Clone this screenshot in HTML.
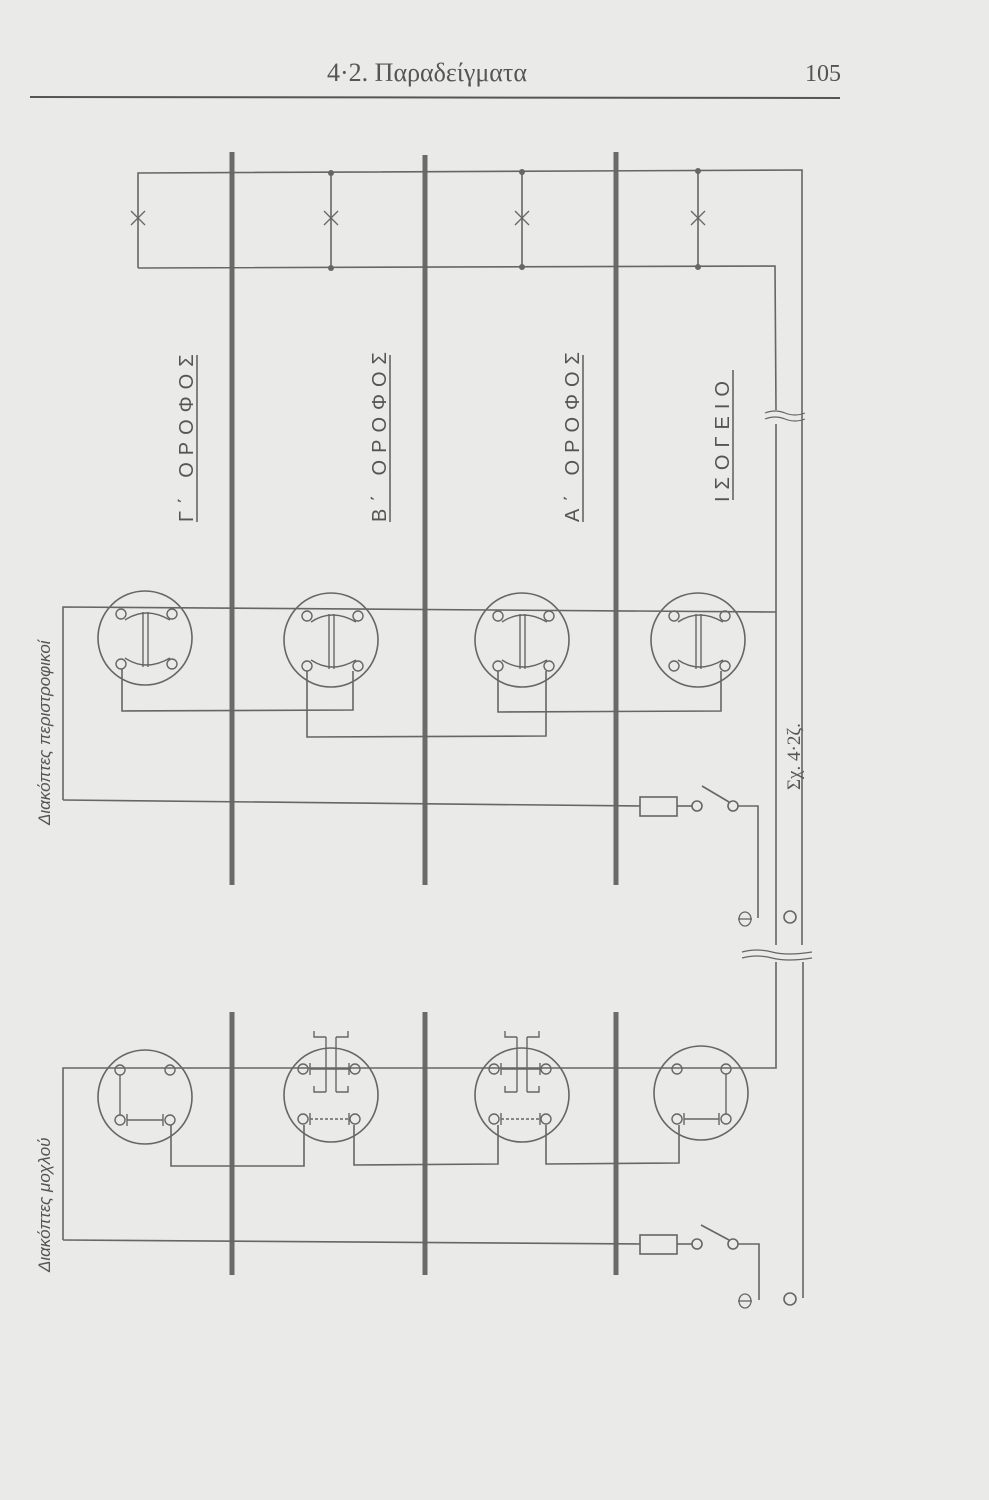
<!DOCTYPE html>
<html><head><meta charset="utf-8"><style>
html,body{margin:0;padding:0;background:#eaeae8;}
svg{display:block}
text{font-family:"Liberation Sans","DejaVu Sans",sans-serif;fill:#555}
</style></head><body>
<svg width="989" height="1500" viewBox="0 0 989 1500" xmlns="http://www.w3.org/2000/svg">
<rect width="989" height="1500" fill="#eaeae8"/>
<!-- header -->
<text x="427" y="81" font-size="26" text-anchor="middle" style="font-family:'Liberation Serif',serif" fill="#3a3a3a">4·2. Παραδείγματα</text>
<text x="823" y="81" font-size="24" text-anchor="middle" style="font-family:'Liberation Serif',serif" fill="#3a3a3a">105</text>
<line x1="30" y1="97" x2="840" y2="98" stroke="#555" stroke-width="2"/>

<g stroke="#666" stroke-width="1.6" fill="none">
<!-- floor bars -->
<g stroke="#6a6a6a" stroke-width="5">
<line x1="232" y1="152" x2="232" y2="885"/><line x1="425" y1="155" x2="425" y2="885"/><line x1="616" y1="152" x2="616" y2="885"/>
<line x1="232" y1="1012" x2="232" y2="1275"/><line x1="425" y1="1012" x2="425" y2="1275"/><line x1="616" y1="1012" x2="616" y2="1275"/>
</g>
<!-- lamp wiring -->
<polyline points="138,268 138,173 802,170 802,945"/>
<polyline points="138,268 775,266 776,410"/>
<polyline points="776,424 776,945"/>
<polyline points="776,962 776,1068 740,1068"/>
<polyline points="803,962 803,1298"/>
<line x1="331" y1="173" x2="331" y2="268"/><line x1="522" y1="172" x2="522" y2="267"/><line x1="698" y1="171" x2="698" y2="267"/>
<g stroke-width="1.3">
<path d="M131,211 L145,225 M145,211 L131,225"/><path d="M324,211 L338,225 M338,211 L324,225"/>
<path d="M515,211 L529,225 M529,211 L515,225"/><path d="M691,211 L705,225 M705,211 L691,225"/>
</g>
<!-- wavy breaks -->
<path d="M765,413 q10,-4 20,0 t20,0 M765,419 q10,-4 20,0 t20,0" stroke-width="1.2"/>
<path d="M742,952 q15,-4 30,0 t40,0 M742,958 q15,-4 30,0 t40,0" stroke-width="1.2"/>
<!-- underlines for labels -->
<line x1="197" y1="355" x2="197" y2="522"/><line x1="390" y1="355" x2="390" y2="522"/>
<line x1="583" y1="355" x2="583" y2="522"/><line x1="733" y1="370" x2="733" y2="500"/>

<!-- top diagram: rotary switches -->
<polyline points="63,800 63,607 776,612"/>
<polyline points="63,800 640,806"/>
<circle cx="145" cy="638" r="47"/><circle cx="331" cy="640" r="47"/><circle cx="522" cy="640" r="47"/><circle cx="698" cy="640" r="47"/>
<g stroke-width="1.4">
<g>
<circle cx="121" cy="614" r="5"/><circle cx="172" cy="614" r="5"/><circle cx="121" cy="664" r="5"/><circle cx="172" cy="664" r="5"/>
<line x1="143" y1="612" x2="143" y2="667"/><line x1="148" y1="612" x2="148" y2="667"/>
<path d="M125,620 Q146,606 170,620 M125,658 Q146,672 170,658"/>
</g>
<g transform="translate(186,2)"><circle cx="121" cy="614" r="5"/><circle cx="172" cy="614" r="5"/><circle cx="121" cy="664" r="5"/><circle cx="172" cy="664" r="5"/>
<line x1="143" y1="612" x2="143" y2="667"/><line x1="148" y1="612" x2="148" y2="667"/>
<path d="M125,620 Q146,606 170,620 M125,658 Q146,672 170,658"/></g>
<g transform="translate(377,2)"><circle cx="121" cy="614" r="5"/><circle cx="172" cy="614" r="5"/><circle cx="121" cy="664" r="5"/><circle cx="172" cy="664" r="5"/>
<line x1="143" y1="612" x2="143" y2="667"/><line x1="148" y1="612" x2="148" y2="667"/>
<path d="M125,620 Q146,606 170,620 M125,658 Q146,672 170,658"/></g>
<g transform="translate(553,2)"><circle cx="121" cy="614" r="5"/><circle cx="172" cy="614" r="5"/><circle cx="121" cy="664" r="5"/><circle cx="172" cy="664" r="5"/>
<line x1="143" y1="612" x2="143" y2="667"/><line x1="148" y1="612" x2="148" y2="667"/>
<path d="M125,620 Q146,606 170,620 M125,658 Q146,672 170,658"/></g>
</g>
<polyline points="122,669 122,711 353,710 353,671"/>
<polyline points="307,671 307,737 546,736 546,671"/>
<polyline points="498,671 498,712 721,711 721,671"/>
<!-- fuse + switch top -->
<rect x="640" y="797" width="37" height="19"/>
<line x1="677" y1="806" x2="692" y2="806"/>
<circle cx="697" cy="806" r="5"/><circle cx="733" cy="806" r="5"/>
<line x1="702" y1="786" x2="729" y2="802"/>
<polyline points="738,806 758,806 758,918"/>
<ellipse cx="745" cy="919" rx="6" ry="7" stroke-width="1.3"/><line x1="738" y1="919" x2="752" y2="919" stroke-width="1.3"/>
<ellipse cx="790" cy="917" rx="6" ry="6"/>

<!-- bottom diagram -->
<polyline points="63,1240 63,1068 740,1068"/>
<polyline points="63,1240 640,1244"/>
<circle cx="145" cy="1097" r="47"/><circle cx="331" cy="1095" r="47"/><circle cx="522" cy="1095" r="47"/><circle cx="701" cy="1093" r="47"/>
<g stroke-width="1.4">
<circle cx="120" cy="1070" r="5"/><circle cx="170" cy="1070" r="5"/><circle cx="120" cy="1120" r="5"/><circle cx="170" cy="1120" r="5"/>
<line x1="120" y1="1075" x2="120" y2="1115"/><line x1="127" y1="1120" x2="163" y2="1120"/><path d="M127,1114 v12 M163,1114 v12"/>
<circle cx="677" cy="1069" r="5"/><circle cx="726" cy="1069" r="5"/><circle cx="677" cy="1119" r="5"/><circle cx="726" cy="1119" r="5"/>
<line x1="726" y1="1074" x2="726" y2="1114"/><line x1="684" y1="1119" x2="719" y2="1119"/><path d="M684,1113 v12 M719,1113 v12"/>
<g>
<circle cx="303" cy="1069" r="5"/><circle cx="355" cy="1069" r="5"/><circle cx="303" cy="1119" r="5"/><circle cx="355" cy="1119" r="5"/>
<line x1="326" y1="1037" x2="326" y2="1092"/><line x1="336" y1="1037" x2="336" y2="1092"/>
<path d="M326,1037 h-12 v-6 M336,1037 h12 v-6 M326,1092 h-12 v-6 M336,1092 h12 v-6"/>
<line x1="310" y1="1069" x2="349" y2="1069"/><path d="M310,1063 v12 M349,1063 v12"/>
<line x1="310" y1="1119" x2="349" y2="1119" stroke-dasharray="3 2"/><path d="M310,1113 v12 M349,1113 v12"/>
</g>
<g transform="translate(191,0)">
<circle cx="303" cy="1069" r="5"/><circle cx="355" cy="1069" r="5"/><circle cx="303" cy="1119" r="5"/><circle cx="355" cy="1119" r="5"/>
<line x1="326" y1="1037" x2="326" y2="1092"/><line x1="336" y1="1037" x2="336" y2="1092"/>
<path d="M326,1037 h-12 v-6 M336,1037 h12 v-6 M326,1092 h-12 v-6 M336,1092 h12 v-6"/>
<line x1="310" y1="1069" x2="349" y2="1069"/><path d="M310,1063 v12 M349,1063 v12"/>
<line x1="310" y1="1119" x2="349" y2="1119" stroke-dasharray="3 2"/><path d="M310,1113 v12 M349,1113 v12"/>
</g>
</g>
<polyline points="171,1125 171,1166 304,1166 304,1125"/>
<polyline points="354,1125 354,1165 498,1164 498,1125"/>
<polyline points="546,1125 546,1164 679,1163 679,1125"/>
<rect x="640" y="1235" width="37" height="19"/>
<line x1="677" y1="1244" x2="692" y2="1244"/>
<circle cx="697" cy="1244" r="5"/><circle cx="733" cy="1244" r="5"/>
<line x1="701" y1="1225" x2="729" y2="1240"/>
<polyline points="738,1244 759,1244 759,1300"/>
<ellipse cx="745" cy="1301" rx="6" ry="7" stroke-width="1.3"/><line x1="738" y1="1301" x2="752" y2="1301" stroke-width="1.3"/>
<ellipse cx="790" cy="1299" rx="6" ry="6"/>
</g>
<!-- junction dots -->
<g fill="#666">
<circle cx="331" cy="173" r="3"/><circle cx="522" cy="172" r="3"/><circle cx="698" cy="171" r="3"/>
<circle cx="331" cy="268" r="3"/><circle cx="522" cy="267" r="3"/><circle cx="698" cy="267" r="3"/>
</g>
<!-- rotated labels -->
<g font-size="20" fill="#555" letter-spacing="7">
<text transform="translate(193,522) rotate(-90)">Γ΄ ΟΡΟΦΟΣ</text>
<text transform="translate(386,522) rotate(-90)">Β΄ ΟΡΟΦΟΣ</text>
<text transform="translate(579,522) rotate(-90)">Α΄ ΟΡΟΦΟΣ</text>
<text transform="translate(729,502) rotate(-90)">ΙΣΟΓΕΙΟ</text>
</g>
<text transform="translate(800,790) rotate(-90)" font-size="19" fill="#555" style="font-family:'Liberation Serif',serif">Σχ. 4·2ζ.</text>
<text transform="translate(50,825) rotate(-90)" font-size="17" font-style="italic" fill="#777">Διακόπτες   περιστροφικοί</text>
<text transform="translate(50,1272) rotate(-90)" font-size="17" font-style="italic" fill="#777">Διακόπτες   μοχλού</text>
</svg>
</body></html>
